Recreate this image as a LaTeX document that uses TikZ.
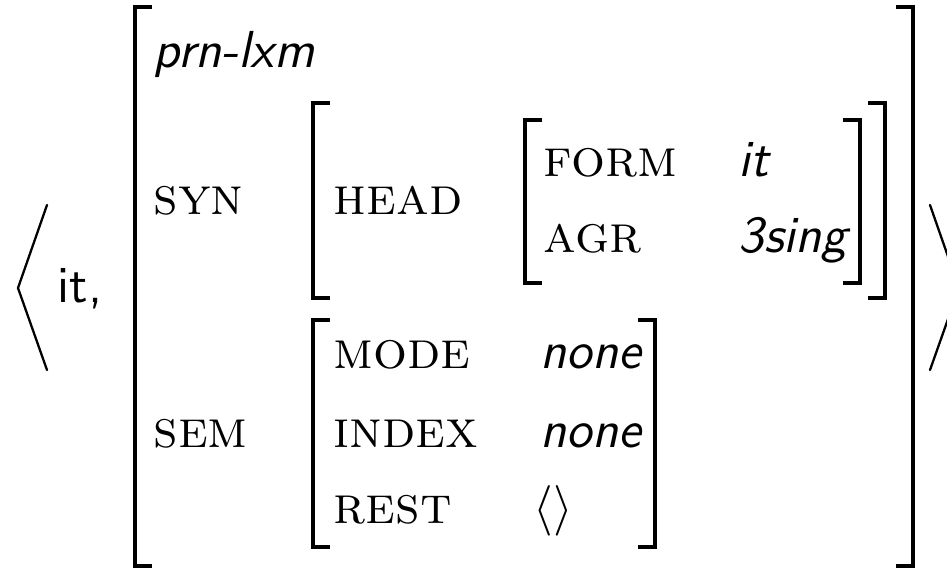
\documentclass[tikz,border=0pt]{standalone}
\usepackage{amsmath,amssymb}
\usepackage{tikz}
\usetikzlibrary{calc}

\begin{document}
\begin{tikzpicture}
  \useasboundingbox (0,0) rectangle (9.47,-5.69);
  % Define text and bracket styles
  \tikzset{feat/.style={anchor=base west, inner sep=0pt, font=\fontsize{15.2}{18}\selectfont\scshape}}
  \tikzset{val/.style={anchor=base west, inner sep=0pt, font=\fontsize{14.8}{18}\selectfont\sffamily\itshape}}
  \tikzset{brack/.style={line width=0.95pt}}
  \tikzset{angl/.style={line width=0.65pt, line cap=round}}

  % the pair < it, [...] >
  \draw[angl] (0.47,-2.05) -- (0.18,-2.88) -- (0.47,-3.70);
  \node[anchor=base west, inner sep=0pt, font=\fontsize{14.8}{18}\selectfont\sffamily] (word) at (0.57,-3.02) {it,};
  \draw[angl] (9.30,-2.05) -- (9.59,-2.88) -- (9.30,-3.70);

  % outer matrix
  \draw[brack] (1.52,-0.07) -- (1.35,-0.07) -- (1.35,-5.66) -- (1.52,-5.66);
  \draw[brack] (8.96,-0.07) -- (9.13,-0.07) -- (9.13,-5.66) -- (8.96,-5.66);
  \node[val] (type) at (1.53,-0.68) {prn-lxm};

  % SYN part
  \node[feat] (syn) at (1.53,-2.15) {syn};
  \draw[brack] (3.30,-1.03) -- (3.13,-1.03) -- (3.13,-2.98) -- (3.30,-2.98);
  \draw[brack] (8.68,-1.03) -- (8.85,-1.03) -- (8.85,-2.98) -- (8.68,-2.98);
  \node[feat] (head) at (3.33,-2.15) {head};
  \draw[brack] (5.42,-1.20) -- (5.25,-1.20) -- (5.25,-2.83) -- (5.42,-2.83);
  \draw[brack] (8.43,-1.20) -- (8.60,-1.20) -- (8.60,-2.83) -- (8.43,-2.83);
  \node[feat] (form) at (5.43,-1.77) {form};
  \node[val] (formval) at (7.38,-1.77) {it};
  \node[feat] (agr) at (5.43,-2.53) {agr};
  \node[val] (agrval) at (7.38,-2.53) {3sing};

  % SEM part
  \node[feat] (sem) at (1.53,-4.47) {sem};
  \draw[brack] (3.30,-3.20) -- (3.13,-3.20) -- (3.13,-5.47) -- (3.30,-5.47);
  \draw[brack] (6.38,-3.20) -- (6.55,-3.20) -- (6.55,-5.47) -- (6.38,-5.47);
  \node[feat] (mode) at (3.33,-3.68) {mode};
  \node[val] (modeval) at (5.40,-3.68) {none};
  \node[feat] (index) at (3.33,-4.47) {index};
  \node[val] (indexval) at (5.40,-4.47) {none};
  \node[feat] (rest) at (3.33,-5.23) {rest};
  \node[anchor=base west, inner sep=0pt, font=\fontsize{14.8}{18}\selectfont] (restval) at (5.33,-5.23) {$\langle\rangle$};
\end{tikzpicture}
\end{document}
